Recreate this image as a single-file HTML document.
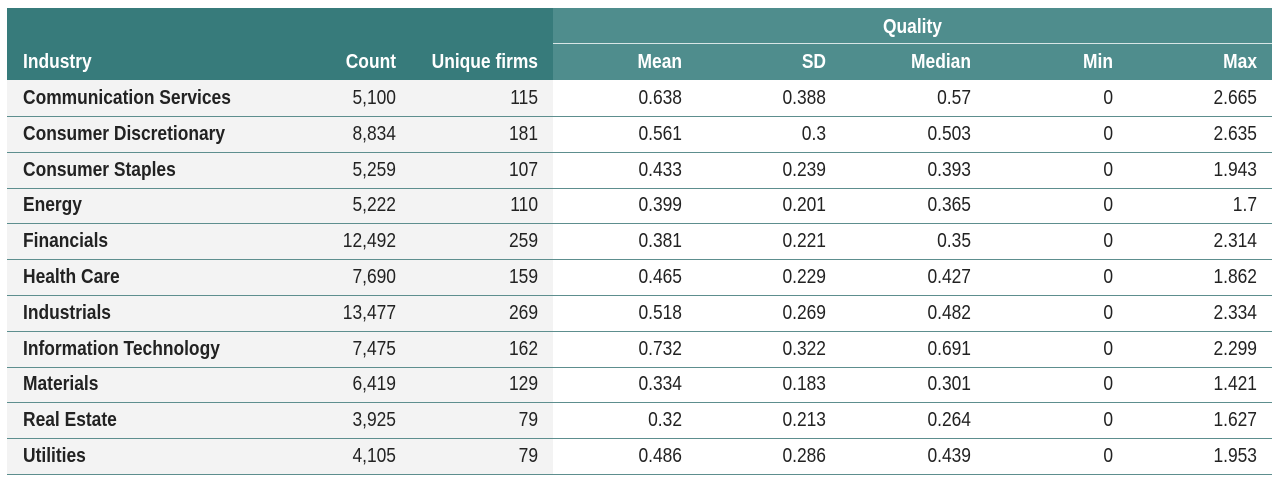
<!DOCTYPE html>
<html><head><style>
body{margin:0;background:#fff;width:1280px;height:484px;position:relative;overflow:hidden;font-family:"Liberation Sans",sans-serif;}
.hd{position:absolute;top:8px;height:72px;}
.t{position:absolute;white-space:nowrap;font-size:20px;line-height:20px;color:#222;transform:scaleX(0.87);transform-origin:left center;}
.h{color:#fff;font-weight:bold;}
.r{text-align:right;transform-origin:right center;}
.line{position:absolute;left:7px;width:1265px;height:1px;background:#5d8e8e;}
</style></head><body>
<div class="hd" style="left:7px;width:546px;background:#377b7b"></div>
<div class="hd" style="left:553px;width:719px;background:#4f8d8d"></div>
<div style="position:absolute;left:553px;width:719px;top:43px;height:1px;background:#d8e6e6"></div>
<div style="position:absolute;left:7px;width:546px;top:80px;height:394px;background:#f3f3f3"></div>
<div class="t h" style="left:553px;width:719px;top:17px;text-align:center;transform-origin:center">Quality</div>
<div id="c"></div>
<script>
const rows=[["Communication Services","5,100","115","0.638","0.388","0.57","0","2.665"],
["Consumer Discretionary","8,834","181","0.561","0.3","0.503","0","2.635"],
["Consumer Staples","5,259","107","0.433","0.239","0.393","0","1.943"],
["Energy","5,222","110","0.399","0.201","0.365","0","1.7"],
["Financials","12,492","259","0.381","0.221","0.35","0","2.314"],
["Health Care","7,690","159","0.465","0.229","0.427","0","1.862"],
["Industrials","13,477","269","0.518","0.269","0.482","0","2.334"],
["Information Technology","7,475","162","0.732","0.322","0.691","0","2.299"],
["Materials","6,419","129","0.334","0.183","0.301","0","1.421"],
["Real Estate","3,925","79","0.32","0.213","0.264","0","1.627"],
["Utilities","4,105","79","0.486","0.286","0.439","0","1.953"]];
const rx=[0,396,538,682,826,971,1113,1257];
let h='';
const hdr=["Industry","Count","Unique firms","Mean","SD","Median","Min","Max"];
function cell(txt,i,y,cls){
 if(i==0) return `<div class="t ${cls}" style="left:23px;top:${y}px">${txt}</div>`;
 return `<div class="t r ${cls}" style="left:${rx[i]-200}px;width:200px;top:${y}px">${txt}</div>`;
}
hdr.forEach((t,i)=>h+=cell(t,i,52,'h'));
rows.forEach((r,k)=>{
 const y=88+k*35.8;
 r.forEach((t,i)=>h+=cell(t,i,y,i==0?'b':''));
 h+=`<div class="line" style="top:${Math.round(116+k*35.8)}px"></div>`;
});
document.getElementById('c').innerHTML=h;
document.querySelectorAll('.b').forEach(e=>e.style.fontWeight='bold');
</script>
</body></html>
